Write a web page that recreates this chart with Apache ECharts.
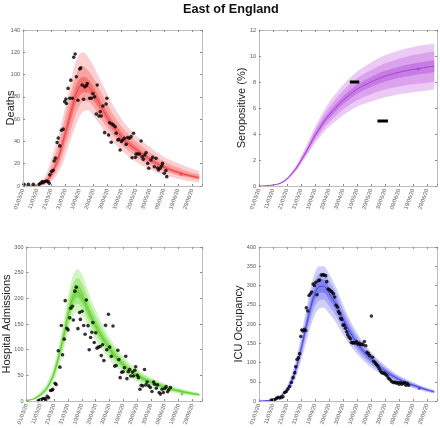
<!DOCTYPE html>
<html>
<head>
<meta charset="utf-8">
<script src="https://cdn.jsdelivr.net/npm/echarts@6/dist/echarts.min.js"></script>
<style>html,body{margin:0;padding:0;background:#fff}#c{width:440px;height:428px}</style>
</head>
<body>
<div id="c"></div>
<script>
// ---- Data (days since 01/03/20) ----
const dateLabels = ['01/03/20','11/03/20','21/03/20','31/03/20','10/04/20','20/04/20','30/04/20','10/05/20','20/05/20','30/05/20','09/06/20','19/06/20','29/06/20'];
const days = [0,5,10,15,20,25,28,31,34,37,40,43,46,50,55,60,65,70,75,80,85,90,95,100,105,110,115,120,125];

const deathsMed   = [0,0.1,0.8,3,10,25,38,52,66,80,89,91,90,83,72,61,52,44,38,33,28,24,20,17,14.5,12.3,10.4,8.8,7.4];
const deathsInLo  = [0,0.05,0.6,2.4,8,21,33,46,59,72,81,84,84,77,67,57,48,41,35,30,25.5,21.5,18.3,15.5,13,11,9.3,7.8,6.5];
const deathsInHi  = [0,0.15,1,3.7,12,29,43,58,73,88,96,98,96,89,77,66,56,48,41,36,30.5,26,22,18.8,16,13.6,11.5,9.8,8.3];
const deathsMidLo = [0,0,0.4,1.7,6,17,27,39,51,63,72,76,76,71,61,52,44,37,31.5,26.5,22,19,16,13.5,11.5,9.5,8,6.5,5.5];
const deathsMidHi = [0,0.2,1.5,5,17,37,52,68,84,97,106,107,104,97,85,73,62,53,46,40,35,30,26,22,19,16.5,14,12,10.5];
const deathsOutLo = [0,0,0.2,1,3.6,12,20,31,42,53,62,67,68,63,54,45,38,32,26,22,18,15,12,10,8,6.5,5,4,3];
const deathsOutHi = [0,0.3,2.2,7,24,45,60,77,94,110,118,120,116,108,95,82,70,60,52,45,40,35,30,26,23,20.5,18,15.5,13.5];
const deathsPts = [[0.7,1.5],[3.8,1.5],[7.3,1.5],[11.5,1.5],[12.5,2.5],[13.6,4],[14.3,3],[15.5,4],[16.7,4.5],[17.8,4],[18.6,2.4],[19,10],[20.2,13],[21.4,14],[22.1,22.4],[23,25],[24.2,39],[25,43],[26.1,36],[27.3,50],[28.5,51],[29.6,75.7],[30.4,78],[30.8,74],[32,87.6],[33.2,78.7],[33.9,95],[35,78.7],[36,115.5],[37,118.5],[37.9,98],[39,77],[40.2,105],[41,106],[42,90.6],[43,77.8],[43.8,89],[45,90],[45.6,92],[47.3,78.7],[48.5,78.7],[49.6,83],[50.8,80],[52,64.6],[52.7,90.6],[53.9,62.8],[54.8,66.7],[55.5,62.8],[56.7,71.8],[57.9,47.9],[59,73.6],[59.5,78.7],[60.7,45.8],[61.4,56.8],[62.6,39.2],[63,55.6],[64.2,54.7],[65.4,53.2],[66.1,47.3],[67.3,41.3],[68,41.9],[68.9,32.3],[69.8,40],[70.8,41.3],[72,42.8],[73.2,37.4],[74.3,43.5],[75.5,42.8],[76.7,44.3],[77.4,25.4],[78.4,47.3],[79.8,25.7],[80.2,28.7],[81.4,28.7],[82.6,28.7],[83.8,40.4],[84.5,26.3],[85.4,23.9],[86.4,27.8],[87.3,29.9],[88.5,20.3],[89.2,15.9],[90.8,23.3],[92,25.7],[93.2,17.3],[94.4,24.8],[95.5,16],[96.2,14.4],[97.3,16],[98.4,17.9],[99,20.3],[100.2,11.4],[101.4,13.8],[102,8.4]];
const deathsLatest = [[112.2,10.5]];

const seroMed   = [0,0.02,0.08,0.2,0.55,1.15,1.6,2.15,2.7,3.3,3.9,4.4,4.9,5.45,6.05,6.6,7.05,7.45,7.75,8.0,8.25,8.45,8.6,8.75,8.87,8.97,9.05,9.15,9.22];
const seroInLo  = [0,0.02,0.075,0.19,0.52,1.1,1.53,2.06,2.59,3.16,3.73,4.2,4.68,5.2,5.77,6.29,6.72,7.1,7.38,7.62,7.85,8.04,8.18,8.32,8.43,8.52,8.6,8.68,8.75];
const seroInHi  = [0,0.02,0.085,0.21,0.58,1.2,1.67,2.24,2.81,3.44,4.07,4.6,5.12,5.7,6.33,6.9,7.38,7.8,8.12,8.38,8.65,8.86,9.02,9.18,9.31,9.42,9.5,9.6,9.67];
const seroMidLo = [0,0.015,0.07,0.18,0.49,1.04,1.45,1.95,2.45,2.98,3.52,3.96,4.4,4.88,5.4,5.88,6.27,6.6,6.85,7.06,7.26,7.42,7.55,7.66,7.75,7.83,7.88,7.95,8.0];
const seroMidHi = [0,0.025,0.09,0.23,0.62,1.27,1.76,2.36,2.97,3.63,4.3,4.86,5.42,6.05,6.72,7.33,7.84,8.3,8.63,8.92,9.2,9.44,9.62,9.8,9.95,10.07,10.17,10.27,10.35];
const seroOutLo = [0,0.01,0.06,0.16,0.45,0.98,1.37,1.84,2.3,2.8,3.3,3.7,4.1,4.55,5.02,5.45,5.8,6.1,6.32,6.5,6.68,6.83,6.95,7.05,7.14,7.22,7.28,7.35,7.42];
const seroOutHi = [0,0.03,0.1,0.25,0.66,1.35,1.86,2.5,3.15,3.85,4.55,5.15,5.75,6.42,7.13,7.78,8.33,8.8,9.18,9.5,9.8,10.05,10.25,10.43,10.58,10.7,10.8,10.88,10.95];
const seroSurvey1 = [[64.8,8.0],[71.5,8.0]];
const seroSurvey2 = [[84.5,5.0],[92,5.0]];
const seroLatest = [[113.6,9.0]];

const hospMed   = [1,4,12,26,55,105,140,178,203,212,203,187,168,147,123,102,85,71,59,50,43,37,32,27,23,20,17,14.5,12.5];
const hospInLo  = [0.8,3.5,11,24,51,98,132,168,193,202,193,177,159,139,116,96,80,66,55,46,39.5,34,29,24.5,21,18,15.3,13,11.2];
const hospInHi  = [1.2,4.5,13,28,59,112,149,189,215,225,216,198,178,156,131,109,91,76,63,54,46.5,40,35,29.5,25,22,18.7,16,13.8];
const hospMidLo = [0.6,3,9.5,22,47,90,122,156,180,190,182,167,150,131,109,90,75,62,51.5,43,37,31.5,27,23,19.5,16.8,14.2,12,10.3];
const hospMidHi = [1.5,5,15,31,64,120,160,202,230,240,230,212,190,166,139,116,97,81,67.5,57.5,49.5,43,37,31.5,27,23.5,20,17,14.8];
const hospOutLo = [0.3,2.2,8,19,40,80,110,143,167,175,168,154,137,119,99,81,67,55,45.5,38,32.5,27.5,23.5,20,17,14.5,12.2,10.2,8.7];
const hospOutHi = [2,6.5,18,36,72,132,175,218,248,257,247,227,204,178,149,124,104,87,72.5,62,53.5,46,40,34,29.5,25.5,22,18.8,16.3];
const hospPts = [[8.5,0.6],[9.6,2],[10.8,3],[12,5],[13.2,5],[13.9,2.5],[15,9],[16,6.5],[17.4,20.5],[18.4,21],[19,23],[20.7,34.6],[21.4,32],[23,98],[24.2,66],[25.2,147],[26.1,90],[27.3,120.5],[28,195.5],[29.2,141.7],[30.1,138.5],[31.3,162],[32,180.8],[33.2,184.6],[33.9,157.7],[35,214],[36,221.8],[37.2,141],[38.4,172.4],[39,159],[40.2,175],[41.4,147],[42.4,130],[43.3,196.8],[44.5,146.8],[45.4,100],[46.4,123.7],[47.3,134],[48,153],[49,114],[50.1,133],[51,103],[52,105],[53.2,106],[54.1,88.5],[55,109.6],[56,78.8],[57.2,147.4],[58.1,100],[59.3,169],[60.2,105],[61.4,87],[62.6,146],[63.8,68],[64.9,69],[66.1,98.7],[66.8,80.8],[67.8,45.5],[68.9,56],[69.9,57],[70.8,64.7],[71.8,87],[72.7,43.6],[73.6,57],[74.6,61.5],[75.5,48.7],[76.7,56.4],[77.4,48.7],[78.4,60],[79,66.7],[80.2,50],[81,45.5],[82.1,23],[83,30.8],[84.2,29.5],[85.4,61.5],[86.4,31.4],[87.3,37],[88.5,29.5],[89.6,26.3],[90.8,18.6],[92,37],[92.7,32.7],[93.9,25],[94.8,31.4],[96,16.7],[96.9,13.5],[98.1,23],[99,16.7],[100,24.4],[101,28],[102.1,18],[103,21.8],[104.2,26.3]];
const hospLatest = [[112.5,13.5]];

const icuMed   = [0,1,4,12,30,68,105,150,200,245,280,297,298,280,250,212,178,150,127,108,92,78,66,56,48,41,35,29,24];
const icuInLo  = [0,0.9,3.6,11,28,63,98,140,187,230,264,280,281,264,235,199,167,141,119,101,86,73,62,52.5,45,38.5,32.8,27.2,22.5];
const icuInHi  = [0,1.1,4.4,13,32,73,112,160,213,260,297,314,315,297,265,225,189,159,135,115,98,83,70,59.5,51,43.5,37.2,30.8,25.5];
const icuMidLo = [0,0.8,3.2,10,25,58,90,130,175,215,246,262,263,247,221,187,157,132,112,95,81,68.5,58,49,42,36,30.8,25.5,21];
const icuMidHi = [0,1.2,4.8,14,35,78,120,170,225,275,313,331,333,313,280,237,199,168,142,121,103,87.5,74,63,54,46,39.2,32.5,27];
const icuOutLo = [0,0.6,2.7,8.5,22,50,80,116,157,195,225,240,242,227,203,172,144,122,103,87,74.5,63,53.5,45,38.5,33,28.3,23.5,19.4];
const icuOutHi = [0,1.4,5.5,16,40,88,134,187,246,296,335,350,350,330,295,250,210,177,150,127.5,108.5,92,78,66,56.5,48.5,41.3,34.2,28.3];
const icuPts = [[8.8,2.6],[10,2.6],[11.2,3.4],[12.4,6.8],[13.6,9.4],[14.8,8],[16,9.4],[17.1,11],[18.3,22],[19.5,25],[20.7,31],[21.9,37.6],[23.1,48],[24.3,60.7],[25.5,73.5],[26.2,89],[27.1,107.7],[28.1,112],[29,123],[29.8,167.5],[30.5,184.6],[31.4,182],[32.4,186],[33.3,183],[33.8,242],[34.8,234],[35.7,274],[36.7,278.6],[37.6,283],[38.6,304],[39.5,300],[40.5,308.5],[41.4,276],[42.4,312.8],[43.3,314.5],[44.5,327],[45.5,328],[46.4,327],[47.6,325.6],[48.3,310],[49.3,291],[50.2,289],[51.2,285.5],[52.1,283],[53.1,278.6],[54,270],[55,248.7],[56,244],[56.7,231.6],[57.6,227],[58.3,214.5],[59,212],[60,197],[60.7,197],[61.7,189],[62.6,180],[63.3,171.8],[64.3,165.8],[65.2,161.5],[65.9,152],[66.9,150.4],[67.6,152],[68.6,150.4],[69.5,154.7],[70.5,147.9],[71.4,150.4],[72.4,146],[73.3,147.9],[74.3,146],[75.2,154.7],[76.2,143.6],[77.1,126.5],[78.1,123],[79,118],[80.2,220.5],[81,113.7],[81.9,103.4],[82.9,99],[83.8,95],[84.8,90.6],[85.7,83.8],[86.7,77.8],[87.6,73.5],[88.6,73],[89.5,71.8],[90.5,69],[91.4,65],[92.4,59],[93.3,56.4],[94.3,52],[95.2,49.6],[96.2,47.9],[97.1,49.6],[98.1,46],[99,47.9],[100,43.6],[101,47.9],[101.9,43.6],[102.9,46],[103.8,47.9],[104.8,41],[105.7,46],[106.7,41]];
const icuLatest = [[114.3,32.5]];

// ---- Chart ----
const FONT = 'Liberation Sans, Arial, Helvetica, sans-serif';
const XMAX = 127;
const DAY = 86400000, T0 = Date.UTC(2020,2,1);
const toT = d => T0 + d*DAY;
const panels = [
  {name:'Deaths', grid:{left:23, top:30, width:179, height:156}, ymax:140, yint:20,
   med:deathsMed, bands:[[deathsOutLo,deathsOutHi],[deathsMidLo,deathsMidHi],[deathsInLo,deathsInHi]],
   cols:['#fcd0d0','#f9a3a3','#f57474','#ef4444'], pts:deathsPts, latest:deathsLatest, nameGap:6.5},
  {name:'Seropositive (%)', grid:{left:259, top:30, width:178, height:156}, ymax:12, yint:2,
   med:seroMed, bands:[[seroOutLo,seroOutHi],[seroMidLo,seroMidHi],[seroInLo,seroInHi]],
   cols:['#ebcbf5','#dba3ee','#c77ce4','#a740d6'], pts:null, latest:seroLatest, nameGap:12},
  {name:'Hospital Admissions', grid:{left:23, top:247, width:179, height:156}, ymax:300, yint:50,
   med:hospMed, bands:[[hospOutLo,hospOutHi],[hospMidLo,hospMidHi],[hospInLo,hospInHi]],
   cols:['#d3f5c3','#aaea8a','#84dc5a','#5fcf2e'], pts:hospPts, latest:hospLatest, nameGap:14.5},
  {name:'ICU Occupancy', grid:{left:259, top:247, width:178, height:156}, ymax:400, yint:50,
   med:icuMed, bands:[[icuOutLo,icuOutHi],[icuMidLo,icuMidHi],[icuInLo,icuInHi]],
   cols:['#cfcff9','#a9a9f5','#8080f0','#4646e8'], pts:icuPts, latest:icuLatest, nameGap:14.3}
];

const grids=[], xAxes=[], yAxes=[], series=[];
const tickStyle = {color:'#8a8a8a', width:1};
const frameLine = {show:true, onZero:false, lineStyle:{color:'#bdbdbd', width:1}};
panels.forEach((p,gi)=>{
  grids.push(Object.assign({show:false, containLabel:false}, p.grid));
  const xb = xAxes.length;
  xAxes.push({type:'value', gridIndex:gi, min:0, max:XMAX, interval:10, z:10,
    axisLine:frameLine, splitLine:{show:false},
    axisTick:{show:true, inside:true, length:2, lineStyle:tickStyle},
    axisLabel:{rotate:70, fontSize:5.5, color:'#555', margin:3, fontFamily:FONT,
      formatter:v=>{const i=Math.round(v/10); return (Math.abs(v-i*10)<1e-6 && dateLabels[i])?dateLabels[i]:'';}}});
  xAxes.push({type:'value', gridIndex:gi, position:'top', min:0, max:XMAX, interval:10, z:10,
    axisLine:frameLine, splitLine:{show:false}, axisLabel:{show:false},
    axisTick:{show:true, inside:true, length:2, lineStyle:tickStyle}});
  // hidden time axis used for the stacked credible bands (stacks along y)
  xAxes.push({type:'time', gridIndex:gi, show:false, min:toT(0), max:toT(XMAX)});
  const yb = yAxes.length;
  yAxes.push({type:'value', gridIndex:gi, min:0, max:p.ymax, interval:p.yint, z:10,
    name:p.name, nameLocation:'middle', nameGap:p.nameGap, nameMoveOverlap:false,
    nameTextStyle:{fontSize:11, color:'#222', fontFamily:FONT},
    axisLine:frameLine, splitLine:{show:false},
    axisTick:{show:true, inside:true, length:2, lineStyle:tickStyle},
    axisLabel:{fontSize:5.5, color:'#555', margin:3, fontFamily:FONT}});
  yAxes.push({type:'value', gridIndex:gi, position:'right', min:0, max:p.ymax, interval:p.yint, z:10,
    axisLine:frameLine, splitLine:{show:false}, axisLabel:{show:false},
    axisTick:{show:true, inside:true, length:2, lineStyle:tickStyle}});
  const xi=xb, xt=xb+2, yi=yb;
  p.bands.forEach((b,bi)=>{
    const st='s'+gi+'_'+bi;
    series.push({type:'line', xAxisIndex:xt, yAxisIndex:yi, stack:st, symbol:'none', smooth:0.35, silent:true, z:2,
      lineStyle:{width:0, opacity:0}, data:days.map((d,i)=>[toT(d), b[0][i]])});
    series.push({type:'line', xAxisIndex:xt, yAxisIndex:yi, stack:st, symbol:'none', smooth:0.35, silent:true, z:2,
      lineStyle:{width:0, opacity:0}, areaStyle:{color:p.cols[bi], opacity:1},
      data:days.map((d,i)=>[toT(d), b[1][i]-b[0][i]])});
  });
  series.push({type:'line', xAxisIndex:xt, yAxisIndex:yi, symbol:'none', smooth:0.35, silent:true, z:4,
    lineStyle:{color:p.cols[3], width:1}, data:days.map((d,i)=>[toT(d), p.med[i]])});
  if(p.pts){
    series.push({type:'scatter', xAxisIndex:xi, yAxisIndex:yi, symbolSize:3.6, silent:true, z:6,
      itemStyle:{color:'#000'}, data:p.pts});
  }
  series.push({type:'scatter', xAxisIndex:xi, yAxisIndex:yi, symbolSize:3, silent:true, z:6,
    itemStyle:{color:p.cols[3]}, data:p.latest});
  if(gi===1){
    [seroSurvey1, seroSurvey2].forEach(s=>{
      series.push({type:'line', xAxisIndex:xi, yAxisIndex:yi, symbol:'none', silent:true, z:6,
        lineStyle:{color:'#000', width:3, cap:'butt'}, data:s});
    });
  }
});

const chart = echarts.init(document.getElementById('c'), null, {renderer:'canvas'});
chart.setOption({
  animation:false,
  backgroundColor:'#fff',
  title:{text:'East of England', left:178, top:-2,
    textStyle:{fontSize:12.7, fontWeight:'bold', color:'#111', fontFamily:FONT}},
  grid:grids, xAxis:xAxes, yAxis:yAxes, series:series
});
</script>
</body>
</html>
